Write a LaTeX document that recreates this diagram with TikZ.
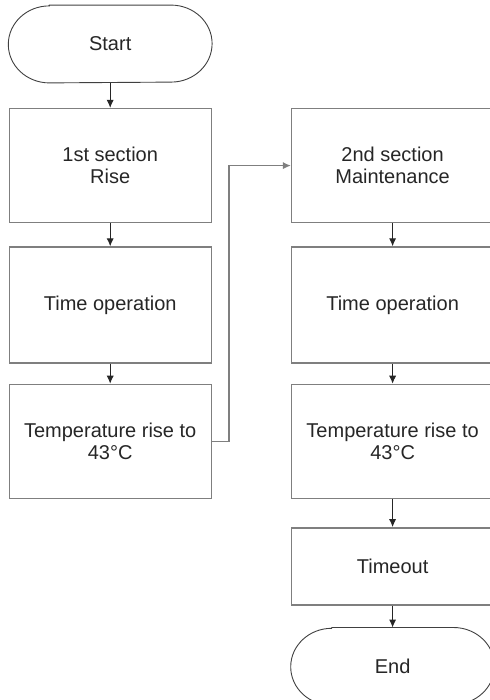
\documentclass[tikz,border=0pt]{standalone}
\usepackage{fontspec}
\setmainfont{Liberation Sans}
\usepackage{xcolor}
\usepackage{tikz}
\usetikzlibrary{shapes,arrows,arrows.meta,positioning,calc}
\definecolor{boxstroke}{HTML}{7F7F7F}
\definecolor{termstroke}{HTML}{404040}
\definecolor{textcol}{HTML}{262626}
\definecolor{linecol}{HTML}{262626}

\begin{document}
\begin{tikzpicture}[
    x=1pt, y=1pt,
    every node/.style={font=\fontsize{10}{11}\selectfont, text=textcol},
    box/.style={rectangle, draw=boxstroke, line width=0.7pt, align=center, minimum width=101pt, minimum height=57pt, inner sep=2pt},
    tallbox/.style={box, minimum height=58pt},
    shortbox/.style={box, minimum height=38.5pt},
    terminal/.style={rectangle, minimum width=101.5pt, minimum height=38.5pt},
    termline/.style={draw=termstroke, line width=0.45pt},
    arrow/.style={-{Latex[length=4pt,width=3.6pt]}, draw=linecol, line width=0.5pt},
    link/.style={-{Latex[length=4pt,width=3.6pt]}, draw=boxstroke, line width=0.7pt}
]
    \useasboundingbox (0,0) rectangle (244.5,-350);

    % Left column
    \node[terminal] (start) at (55.1,-22) {Start};
    \node[box, below=12.5pt of start] (rise) {1st section\\Rise};
    \node[tallbox, below=11.5pt of rise] (time1) {Time operation};
    \node[box, below=10pt of time1] (temp1) {Temperature rise to\\43°C};

    % Right column
    \node[box, right=39.5pt of rise] (maint) {2nd section\\Maintenance};
    \node[tallbox, below=11.5pt of maint] (time2) {Time operation};
    \node[box, below=10pt of time2] (temp2) {Temperature rise to\\43°C};
    \node[shortbox, below=14pt of temp2] (timeout) {Timeout};
    \node[terminal, below=11pt of timeout] (end) {End};

    % Terminal outlines
    \foreach \t in {start,end}
        \draw[termline] ($(\t.north west)+(20.5,0)$) -- ($(\t.north east)+(-20.5,0)$)
            arc[start angle=90, end angle=-90, x radius=20.5, y radius=19.25]
            -- ($(\t.south west)+(20.5,0)$)
            arc[start angle=270, end angle=90, x radius=20.5, y radius=19.25] -- cycle;

    % Edges
    \draw[arrow] (start) -- (rise);
    \draw[arrow] (rise) -- (time1);
    \draw[arrow] (time1) -- (temp1);
    \draw[arrow] (maint) -- (time2);
    \draw[arrow] (time2) -- (temp2);
    \draw[arrow] (temp2) -- (timeout);
    \draw[arrow] (timeout) -- (end);

    % Jump to second section
    \coordinate (bend) at ($(temp1.east)+(8.5,0)$);
    \draw[link] (temp1.east) -- (bend) |- (maint.west);

\end{tikzpicture}
\end{document}
